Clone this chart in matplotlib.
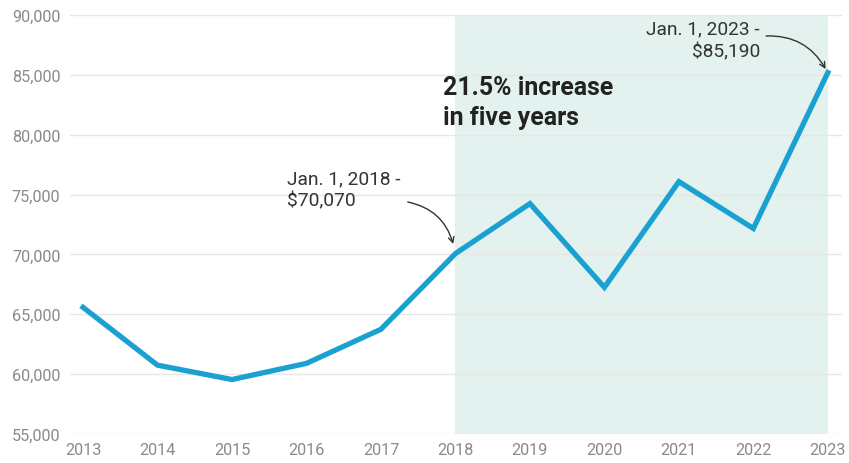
import matplotlib.pyplot as plt
from matplotlib.ticker import FuncFormatter

years = [2013, 2014, 2015, 2016, 2017, 2018, 2019, 2020, 2021, 2022, 2023]
values = [65580, 60750, 59550, 60900, 63750, 70070, 74250, 67250, 76080, 72170, 85190]
y_ticks = [55000, 60000, 65000, 70000, 75000, 80000, 85000, 90000]

plt.rcParams['font.family'] = ['Roboto', 'DejaVu Sans']

fig = plt.figure(figsize=(8.49, 4.64), dpi=100)
ax = fig.add_axes([70 / 849, 1 - 435 / 464, 772 / 849, 419 / 464])

# shaded five-year window
ax.axvspan(2018, 2023, color='#e3f2ef', zorder=0, lw=0)

ax.plot(years, values, color='#1ba1d1', lw=3.8, solid_joinstyle='miter', zorder=3)

ax.set_xlim(2012.825, 2023.19)
ax.set_ylim(55000, 90000)
ax.set_yticks(y_ticks)
ax.set_xticks(years)
ax.yaxis.set_major_formatter(FuncFormatter(lambda v, p: f'{int(v):,}'))
ax.grid(axis='y', color='#e6e6e6', lw=1, zorder=1)
for s in ax.spines.values():
    s.set_visible(False)
ax.tick_params(length=0, labelsize=11.7, labelcolor='#8a8a8a')
ax.tick_params(axis='y', pad=7)
ax.tick_params(axis='x', pad=6)

# callouts
ax.text(2015.74, 75460, 'Jan. 1, 2018 -\n$70,070', fontsize=13.8, color='#333333',
        ha='left', va='center', linespacing=1.3)
ax.annotate('', xy=(2017.97, 70870), xytext=(2017.36, 74380),
            arrowprops=dict(arrowstyle='->', color='#333333', lw=1,
                            connectionstyle='arc3,rad=-0.3', shrinkA=0, shrinkB=0))

ax.text(2022.09, 87910, 'Jan. 1, 2023 -\n$85,190', fontsize=13.8, color='#333333',
        ha='right', va='center', linespacing=1.3)
ax.annotate('', xy=(2022.97, 85490), xytext=(2022.17, 88250),
            arrowprops=dict(arrowstyle='->', color='#333333', lw=1,
                            connectionstyle='arc3,rad=-0.3', shrinkA=0, shrinkB=0))

ax.text(2017.83, 82730, '21.5% increase\nin five years', fontsize=17.9, fontweight='bold',
        color='#222222', ha='left', va='center', linespacing=1.3)

fig.savefig('out.png', dpi=100)
